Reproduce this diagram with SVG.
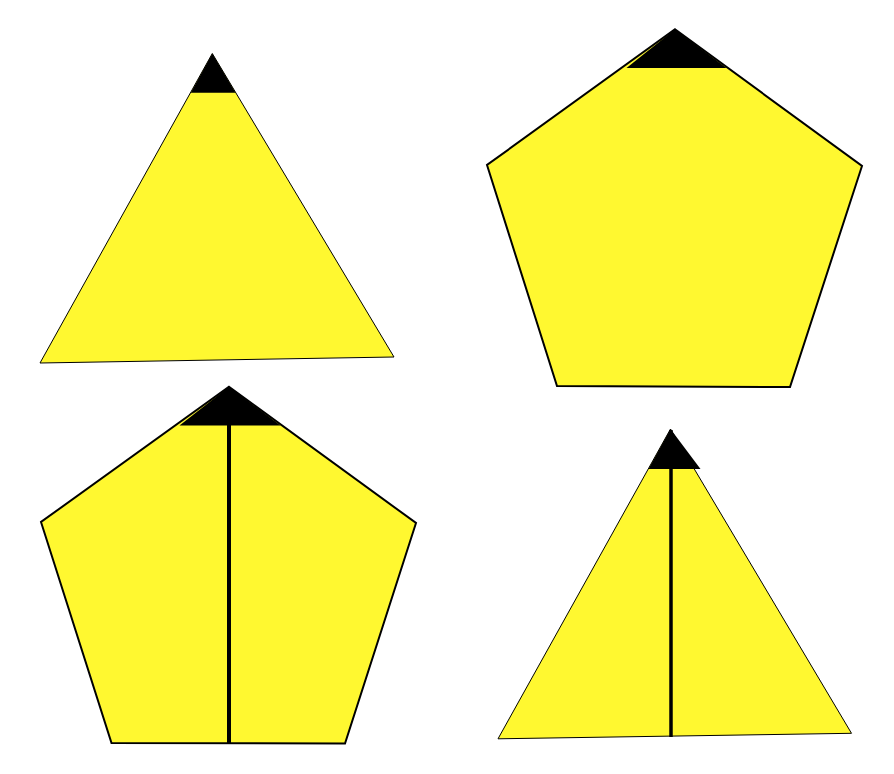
<svg xmlns="http://www.w3.org/2000/svg" width="894" height="774" viewBox="0 0 894 774">
<style>
.tri{fill:#fff830;stroke:#000;stroke-width:1;stroke-linejoin:miter}
.pent{fill:#fff830;stroke:#000;stroke-width:2;stroke-linejoin:miter}
.tip{fill:#000;stroke:none}
.bar{stroke:#000;fill:none}
</style>
<rect width="894" height="774" fill="#fff"/>
<g id="triangle-top-left">
<polygon class="tri" points="212.3,53.5 40,363 394,357"/>
<polygon class="tip" points="212.3,53.5 190.8,92.7 235.6,92.7"/>
</g>
<g id="pentagon-top-right">
<polygon class="pent" points="675,29.3 862,166 790,387 557,386 487,165"/>
<polygon class="tip" points="675,29.3 626.5,68 726.5,68"/>
</g>
<g id="pentagon-bottom-left">
<polygon class="pent" points="229,386.7 416,523 345,743.5 111.5,743 41,522"/>
<polygon class="tip" points="229,386.7 179.5,425.5 280.5,425.5"/>
<line class="bar" x1="229" y1="388" x2="229" y2="743" stroke-width="4"/>
</g>
<g id="triangle-bottom-right">
<polygon class="tri" points="670.5,429 498,738.8 851.5,733.3"/>
<polygon class="tip" points="670.5,429 648.5,469 700.5,469"/>
<line class="bar" x1="671" y1="430" x2="671" y2="737" stroke-width="3.5"/>
</g>
<g id="connectors"></g>
</svg>
